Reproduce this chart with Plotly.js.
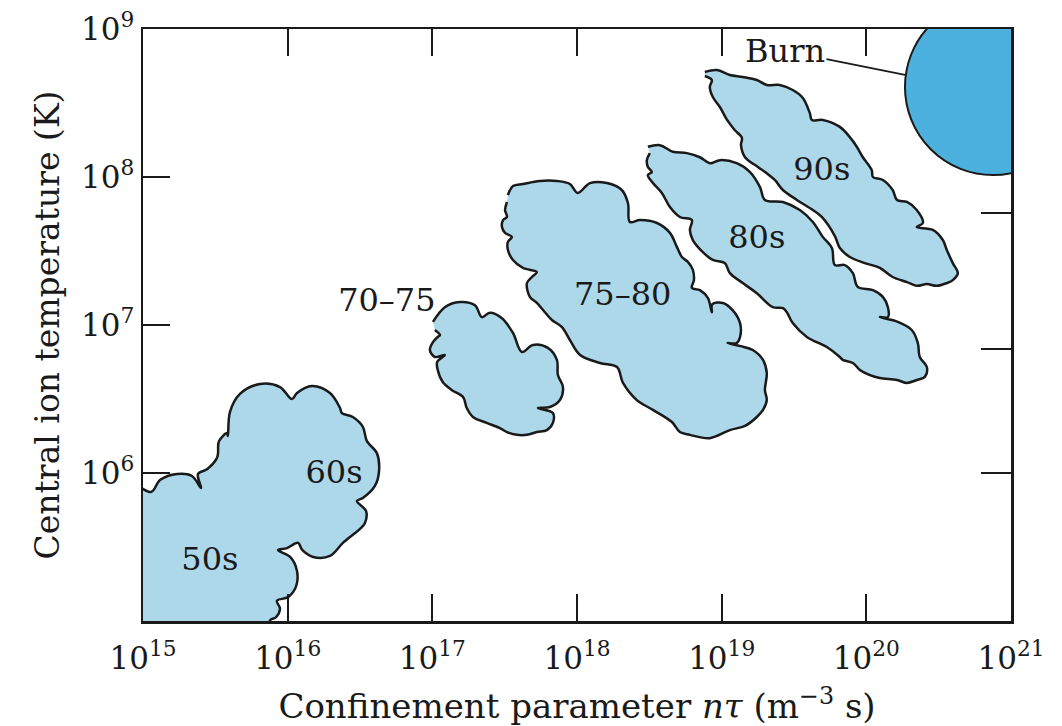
<!DOCTYPE html>
<html>
<head>
<meta charset="utf-8">
<script src="https://cdn.plot.ly/plotly-3.0.1.min.js"></script>
<style>html,body{margin:0;padding:0;background:#fff;}#chart{width:1062px;height:726px;}</style>
</head>
<body>
<div id="chart"></div>
<script>
// ---- Data (x: confinement parameter n*tau in m^-3 s, y: central ion temperature in K) ----
const xTickVals = [1e15, 1e16, 1e17, 1e18, 1e19, 1e20, 1e21];
const xTickText = ['10<sup>15</sup>','10<sup>16</sup>','10<sup>17</sup>','10<sup>18</sup>','10<sup>19</sup>','10<sup>20</sup>','10<sup>21</sup>'];
const yTickVals = [1e6, 1e7, 1e8, 1e9];
const yTickText = ['10<sup>6</sup>','10<sup>7</sup>','10<sup>8</sup>','10<sup>9</sup>'];
const rightTickVals = [5.7e7, 6.9e6, 1e6];

// 1950s + 1960s region (merged cloud, clipped by the axes)
const cloud5060X = [7e14, 1.135e15, 1.31e15, 1.72e15, 2.18e15, 2.52e15, 2.40e15, 2.77e15, 3.24e15, 3.30e15, 3.35e15, 3.81e15, 3.86e15, 3.99e15, 4.68e15, 6.44e15, 8.85e15, 1.07e16, 1.16e16, 1.47e16, 1.96e16, 2.30e16, 2.37e16, 2.82e16, 3.31e16, 3.53e16, 4.14e16, 4.28e16, 4.01e16, 3.31e16, 3.01e16, 3.48e16, 3.42e16, 3.16e16, 2.41e16, 1.96e16, 1.50e16, 1.26e16, 1.18e16, 9.89e15, 8.57e15, 1.04e16, 1.16e16, 1.14e16, 1.005e16, 8.43e15, 8.85e15, 8.30e15, 7.55e15, 7.3e15, 5e14];
const cloud5060Y = [1.05e6, 7.45e5, 8.97e5, 9.85e5, 9.55e5, 7.92e5, 9.85e5, 1.06e6, 1.26e6, 1.36e6, 1.64e6, 1.86e6, 1.78e6, 2.58e6, 3.42e6, 3.99e6, 3.81e6, 3.16e6, 3.47e6, 3.87e6, 3.47e6, 2.75e6, 2.54e6, 2.39e6, 2.05e6, 1.64e6, 1.36e6, 1.03e6, 8.17e5, 6.78e5, 6.47e5, 5.54e5, 4.59e5, 4.19e5, 3.37e5, 2.75e5, 2.71e5, 3.02e5, 3.37e5, 3.11e5, 3.02e5, 2.71e5, 2.18e5, 1.70e5, 1.45e5, 1.37e5, 1.21e5, 1.06e5, 1.01e5, 5e4, 5e4];

// 1970-75
const cloud7075X = [1.01e17, 1.22e17, 1.55e17, 1.97e17, 2.20e17, 2.50e17, 3.03e17, 3.61e17, 4.16e17, 4.96e17, 6.29e17, 7.26e17, 7.38e17, 8.0e17, 7.62e17, 6.50e17, 5.37e17, 6.81e17, 6.81e17, 6.19e17, 5.28e17, 4.51e17, 3.84e17, 3.28e17, 2.93e17, 2.38e17, 1.91e17, 1.73e17, 1.63e17, 1.36e17, 1.18e17, 1.09e17, 1.08e17, 1.22e17, 1.04e17, 9.62e16, 1.01e17, 1.09e17, 1.13e17, 1.04e17];
const cloud7075Y = [1.05e7, 1.32e7, 1.43e7, 1.36e7, 1.13e7, 1.21e7, 1.11e7, 8.83e6, 6.57e6, 7.33e6, 7.0e6, 5.81e6, 4.59e6, 3.81e6, 3.11e6, 2.79e6, 2.75e6, 2.54e6, 2.18e6, 1.95e6, 1.89e6, 1.81e6, 1.81e6, 1.89e6, 2.01e6, 2.18e6, 2.39e6, 2.75e6, 3.26e6, 3.64e6, 4.12e6, 4.97e6, 5.62e6, 6.27e6, 6.08e6, 6.78e6, 7.67e6, 8.30e6, 8.55e6, 9.25e6];

// 1975-80
const cloud7580X = [3.33e17, 3.61e17, 4.23e17, 5.54e17, 7.26e17, 8.93e17, 1.01e18, 1.23e18, 1.61e18, 2.04e18, 2.25e18, 2.32e18, 2.72e18, 3.57e18, 4.39e18, 4.90e18, 5.31e18, 5.84e18, 6.32e18, 6.43e18, 6.22e18, 7.07e18, 8.04e18, 8.55e18, 8.6e18, 1.02e19, 1.19e19, 1.34e19, 1.34e19, 1.27e19, 1.10e19, 1.35e19, 1.64e19, 1.93e19, 2.05e19, 1.99e19, 2.05e19, 1.93e19, 1.75e19, 1.45e19, 1.14e19, 8.28e18, 6.03e18, 5.14e18, 4.53e18, 3.35e18, 2.59e18, 2.08e18, 1.89e18, 1.44e18, 1.05e18, 8.93e17, 7.87e17, 6.71e17, 6.0e17, 5.28e17, 4.72e17, 4.51e17, 4.88e17, 5.28e17, 4.23e17, 3.61e17, 3.33e17, 3.33e17, 3.55e17, 3.18e17, 3.03e17, 3.08e17, 3.28e17, 3.18e17, 3.28e17];
const cloud7580Y = [7.55e7, 8.69e7, 8.97e7, 9.40e7, 9.40e7, 8.97e7, 7.80e7, 9.10e7, 9.10e7, 8.17e7, 6.67e7, 4.97e7, 5.12e7, 4.89e7, 4.19e7, 3.37e7, 2.88e7, 2.67e7, 2.36e7, 2.01e7, 1.78e7, 1.72e7, 1.52e7, 1.22e7, 1.38e7, 1.41e7, 1.26e7, 1.03e7, 8.30e6, 7.55e6, 7.55e6, 7.2e6, 6.78e6, 5.81e6, 4.74e6, 3.64e6, 3.11e6, 2.67e6, 2.39e6, 2.08e6, 1.95e6, 1.72e6, 1.81e6, 1.89e6, 2.21e6, 2.67e6, 3.11e6, 4.06e6, 5.20e6, 5.54e6, 6.27e6, 7.92e6, 9.68e6, 1.08e7, 1.22e7, 1.41e7, 1.55e7, 1.92e7, 2.11e7, 2.28e7, 2.43e7, 2.75e7, 3.21e7, 3.64e7, 3.94e7, 4.19e7, 4.59e7, 5.12e7, 5.37e7, 5.98e7, 6.78e7];

// 1980s
const cloud80X = [3.09e18, 3.74e18, 4.60e18, 5.75e18, 7.07e18, 8.28e18, 9.72e18, 1.27e19, 1.57e19, 1.84e19, 1.99e19, 2.65e19, 3.47e19, 4.27e19, 5.0e19, 5.78e19, 6.06e19, 7.10e19, 8.07e19, 8.73e19, 1.11e20, 1.30e20, 1.41e20, 1.41e20, 1.24e20, 1.65e20, 2.06e20, 2.27e20, 2.34e20, 2.62e20, 2.54e20, 2.23e20, 1.91e20, 1.63e20, 1.24e20, 1.06e20, 9.02e19, 8.07e19, 6.87e19, 6.56e19, 5.33e19, 3.88e19, 3.10e19, 2.82e19, 2.65e19, 2.26e19, 1.75e19, 1.40e19, 1.14e19, 1.05e19, 8.69e18, 7.41e18, 6.32e18, 6.03e18, 6.22e18, 5.14e18, 4.39e18, 3.86e18, 3.35e18, 3.09e18, 3.29e18, 3.09e18, 3.04e18, 3.19e18];
const cloud80Y = [1.60e8, 1.64e8, 1.48e8, 1.45e8, 1.36e8, 1.24e8, 1.30e8, 1.24e8, 1.08e8, 8.55e7, 7.0e7, 6.78e7, 5.98e7, 4.97e7, 3.94e7, 3.31e7, 2.54e7, 2.54e7, 2.24e7, 1.81e7, 1.72e7, 1.55e7, 1.32e7, 1.13e7, 1.13e7, 1.05e7, 9.25e6, 7.55e6, 6.08e6, 5.20e6, 4.46e6, 4.25e6, 4.06e6, 4.25e6, 4.39e6, 4.59e6, 4.97e6, 5.54e6, 5.81e6, 6.08e6, 7.10e6, 8.30e6, 1.03e7, 1.22e7, 1.30e7, 1.32e7, 1.64e7, 1.92e7, 2.24e7, 2.62e7, 2.75e7, 3.11e7, 3.75e7, 4.39e7, 5.12e7, 5.37e7, 6.27e7, 7.80e7, 9.10e7, 1.03e8, 1.08e8, 1.17e8, 1.30e8, 1.45e8];

// 1990s
const cloud90X = [7.65e18, 9.27e18, 1.14e19, 1.40e19, 1.75e19, 2.05e19, 2.52e19, 3.10e19, 3.64e19, 4.07e19, 4.20e19, 5.0e19, 6.56e19, 7.69e19, 8.59e19, 9.46e19, 1.09e20, 1.11e20, 1.30e20, 1.52e20, 1.63e20, 1.91e20, 2.23e20, 2.46e20, 2.23e20, 2.88e20, 3.38e20, 3.60e20, 3.96e20, 4.29e20, 3.96e20, 3.60e20, 3.07e20, 2.62e20, 2.23e20, 1.91e20, 1.52e20, 1.24e20, 9.77e19, 7.69e19, 6.56e19, 6.06e19, 4.92e19, 4.27e19, 3.31e19, 2.65e19, 2.33e19, 2.05e19, 1.78e19, 1.45e19, 1.36e19, 1.38e19, 1.23e19, 1.09e19, 9.72e18, 8.69e18, 8.28e18, 8.55e18, 7.65e18];
const cloud90Y = [5.12e8, 5.28e8, 4.89e8, 4.74e8, 4.52e8, 4.19e8, 4.19e8, 3.87e8, 3.42e8, 2.70e8, 2.43e8, 2.43e8, 2.18e8, 1.86e8, 1.60e8, 1.36e8, 1.11e8, 1.0e8, 9.55e7, 8.17e7, 7.0e7, 6.78e7, 5.98e7, 4.89e7, 4.59e7, 4.39e7, 3.75e7, 3.21e7, 2.62e7, 2.24e7, 2.01e7, 1.92e7, 1.84e7, 1.89e7, 1.84e7, 1.95e7, 2.11e7, 2.43e7, 2.62e7, 2.88e7, 3.31e7, 3.99e7, 5.37e7, 5.98e7, 7.0e7, 8.17e7, 9.55e7, 1.06e8, 1.17e8, 1.36e8, 1.64e8, 1.84e8, 2.08e8, 2.43e8, 2.97e8, 3.47e8, 4.06e8, 4.52e8, 4.81e8];

// Ignition ("Burn") region: bounding box of the disc
const burnX = [1.85e20, 3.03e21];
const burnY = [1.03e8, 1.60e9];
const burnPointer = [1.85e20, 4.9e8];

// Region labels and their anchor points
const labelText = ['50s', '60s', '70–75', '75–80', '80s', '90s'];
const labelX = [2.90e15, 2.09e16, 4.85e16, 2.07e18, 1.75e19, 4.92e19];
const labelY = [2.51e5, 9.68e5, 1.41e7, 1.55e7, 3.75e7, 1.08e8];

// ---- Styling ----
const FONT = 'DejaVu Serif, serif';
const INK = '#1a1a1a';
const CLOUD = '#acd8ea';
const BURN = '#4cb1df';

function cloud(x, y) {
  return {
    type: 'scatter', mode: 'lines', x: x, y: y,
    fill: 'toself', fillcolor: CLOUD,
    line: {color: INK, width: 2.5, shape: 'spline', smoothing: 1},
    hoverinfo: 'skip', showlegend: false
  };
}

const traces = [
  cloud(cloud5060X, cloud5060Y),
  cloud(cloud7075X, cloud7075Y),
  cloud(cloud7580X, cloud7580Y),
  cloud(cloud80X, cloud80Y),
  cloud(cloud90X, cloud90Y),
  {
    type: 'scatter', mode: 'text', x: labelX, y: labelY, text: labelText,
    textfont: {family: FONT, size: 32, color: INK}, textposition: 'middle center',
    cliponaxis: false, hoverinfo: 'skip', showlegend: false
  },
  {type: 'scatter', x: [], y: [], yaxis: 'y2', hoverinfo: 'skip', showlegend: false}
];

const tickFont = {family: FONT, size: 31, color: INK};

const layout = {
  width: 1062, height: 726,
  margin: {l: 143, r: 51, t: 29, b: 105},
  paper_bgcolor: '#ffffff', plot_bgcolor: '#ffffff',
  showlegend: false,
  xaxis: {
    type: 'log', range: [15, 21],
    tickmode: 'array', tickvals: xTickVals, ticktext: xTickText,
    ticks: 'inside', ticklen: 27, tickwidth: 2, tickcolor: INK,
    showline: true, linewidth: 2.5, linecolor: INK, mirror: 'ticks',
    showgrid: false, zeroline: false, tickfont: tickFont, ticklabelstandoff: 8,
    title: {text: 'Confinement parameter <i>nτ</i> (m<sup>−3</sup> s)', font: {family: FONT, size: 34, color: INK}, standoff: 42}
  },
  yaxis: {
    type: 'log', range: [5, 9],
    tickmode: 'array', tickvals: yTickVals, ticktext: yTickText,
    ticks: 'inside', ticklen: 27, tickwidth: 2, tickcolor: INK,
    showline: true, linewidth: 2.5, linecolor: INK, mirror: true,
    showgrid: false, zeroline: false, tickfont: tickFont,
    title: {text: 'Central ion temperature (K)', font: {family: FONT, size: 33, color: INK}, standoff: 12}
  },
  yaxis2: {
    type: 'log', range: [5, 9], overlaying: 'y', side: 'right', anchor: 'x',
    tickmode: 'array', tickvals: rightTickVals, showticklabels: false,
    ticks: 'inside', ticklen: 30, tickwidth: 2, tickcolor: INK,
    showline: false, showgrid: false, zeroline: false
  },
  shapes: [{
    type: 'circle', xref: 'x', yref: 'y',
    x0: burnX[0], x1: burnX[1], y0: burnY[0], y1: burnY[1],
    fillcolor: BURN, line: {color: INK, width: 2}, layer: 'above'
  }],
  annotations: [{
    text: 'Burn', xref: 'x', yref: 'y',
    x: Math.log10(burnPointer[0]), y: Math.log10(burnPointer[1]),
    ax: -120, ay: -24, showarrow: true, arrowhead: 0, arrowwidth: 1.8, arrowcolor: INK,
    standoff: 0, startstandoff: 0,
    font: {family: FONT, size: 32, color: INK}
  }]
};

Plotly.newPlot('chart', traces, layout, {displayModeBar: false, staticPlot: true});
</script>
</body>
</html>
